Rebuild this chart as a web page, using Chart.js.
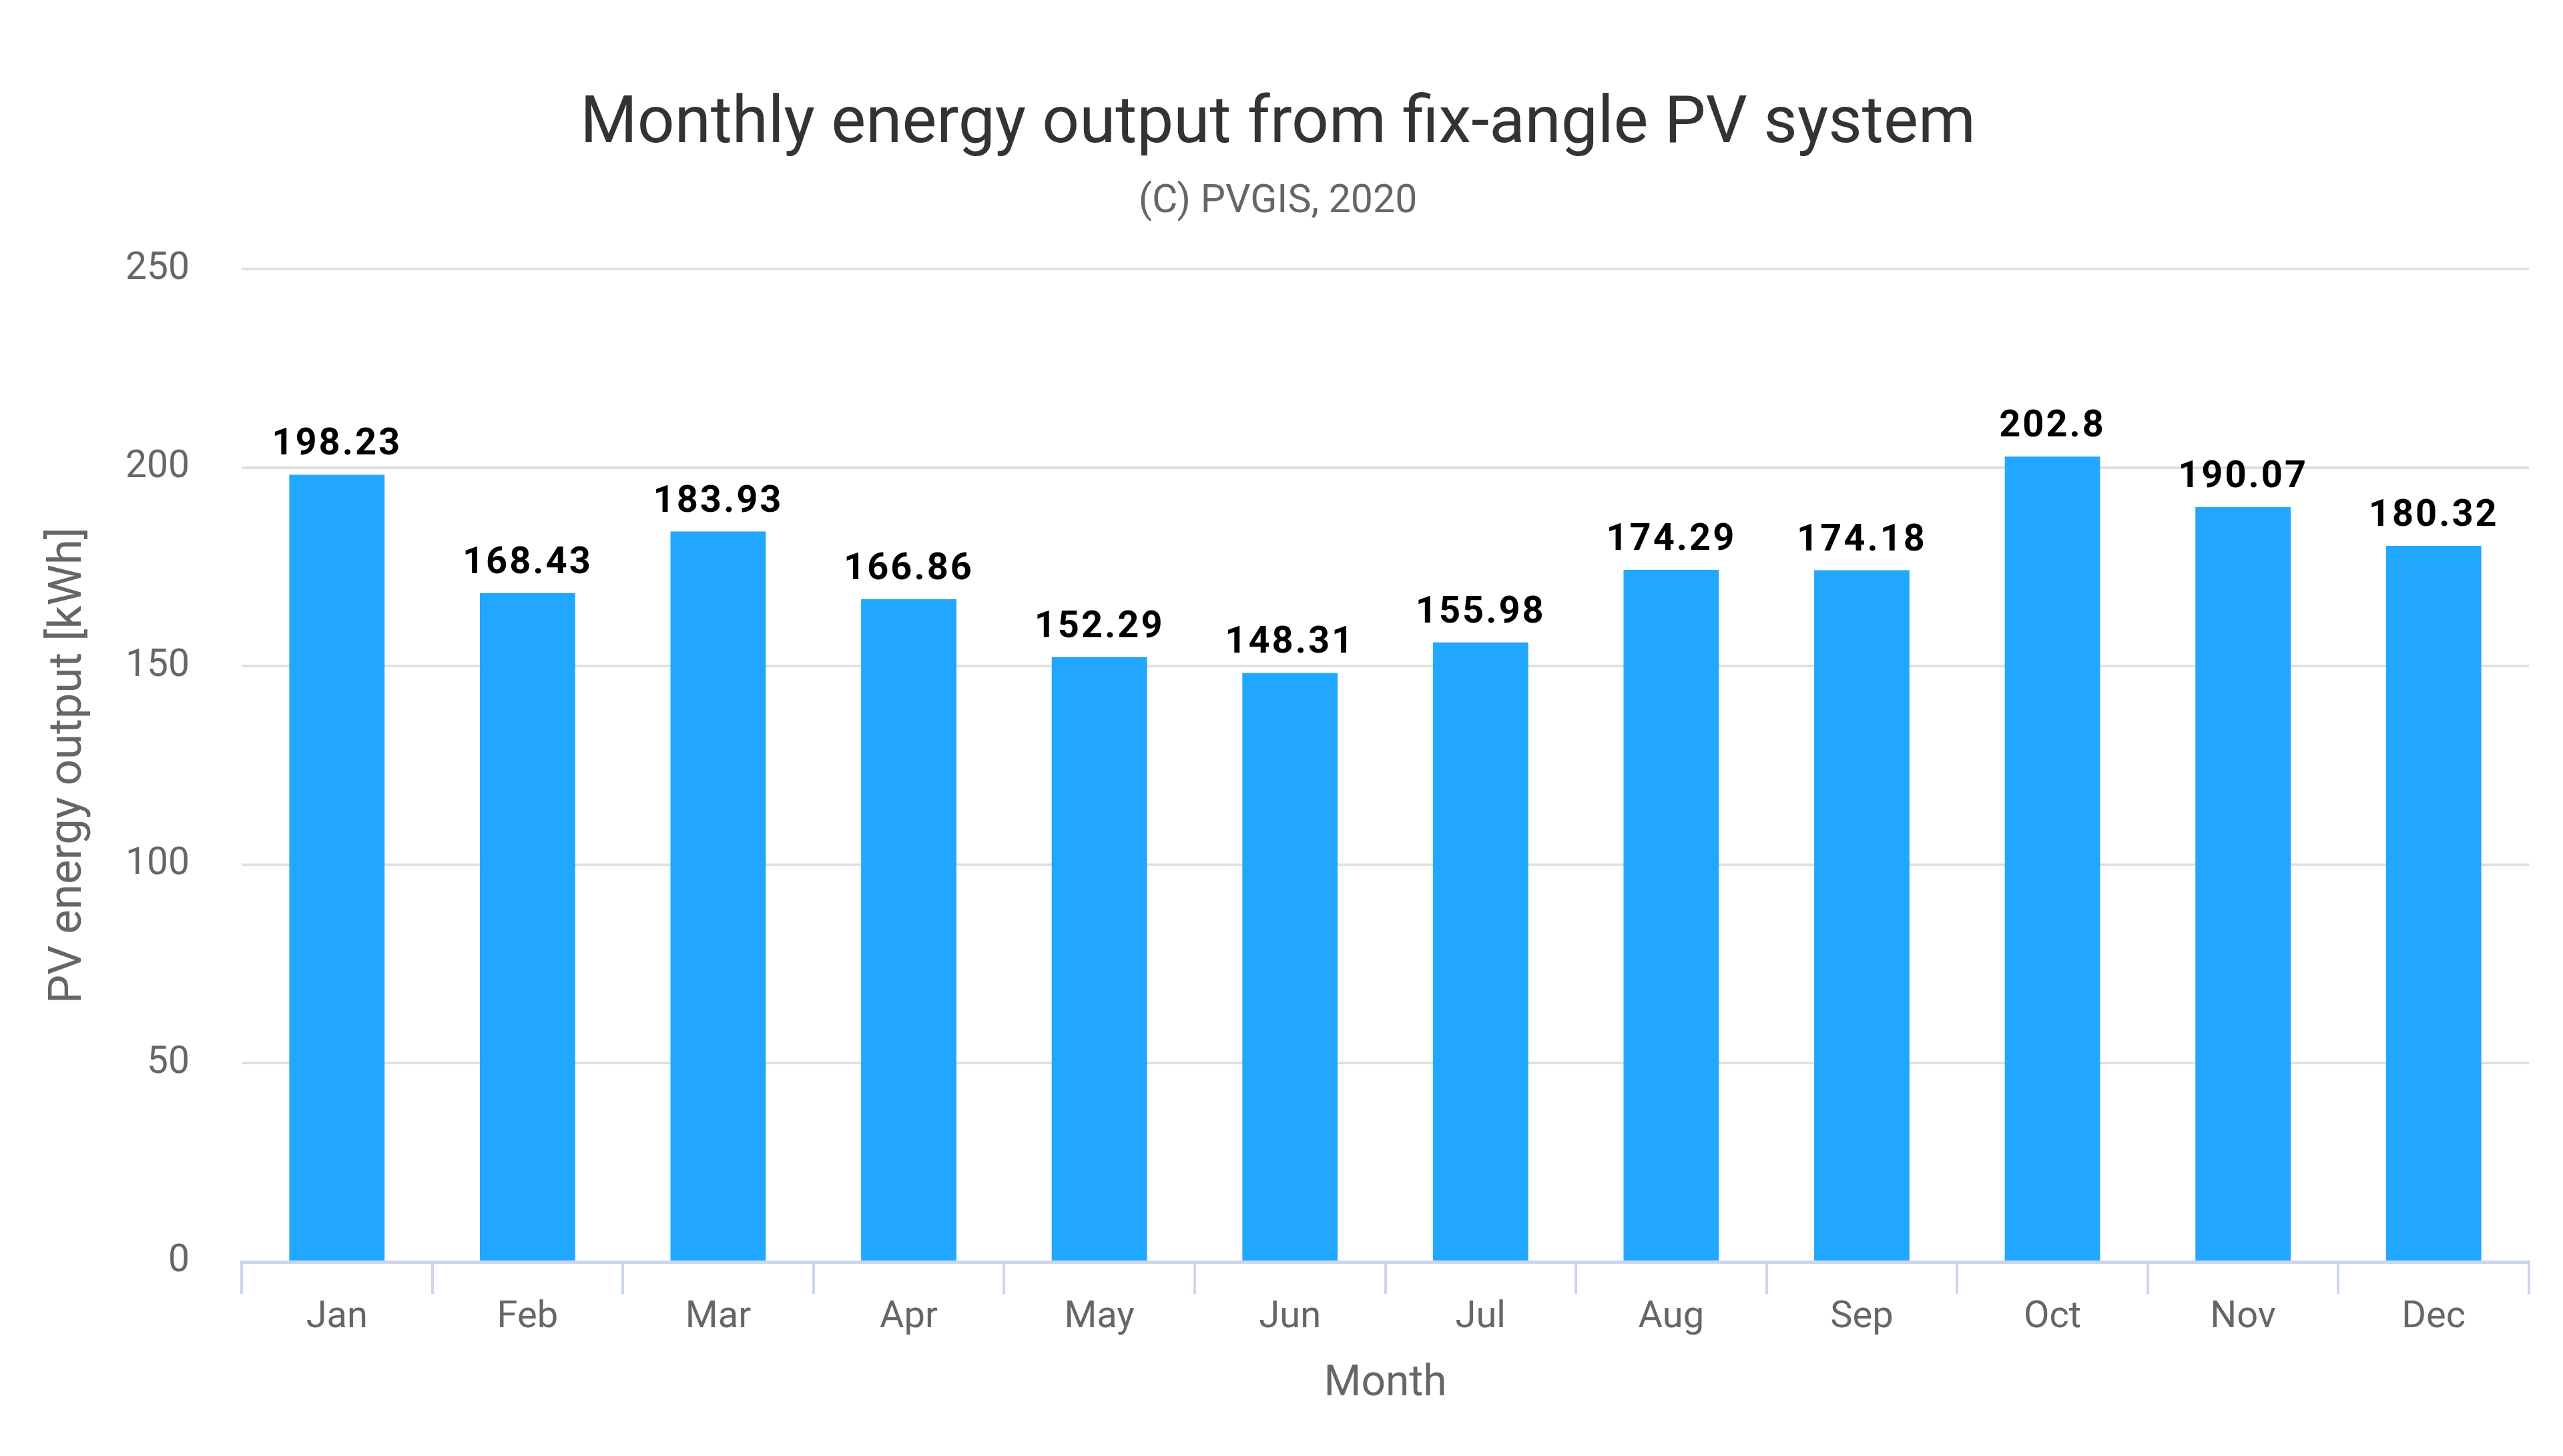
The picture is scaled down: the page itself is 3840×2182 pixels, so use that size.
<!DOCTYPE html>
<html>
<head>
<meta charset="utf-8">
<script src="https://cdn.jsdelivr.net/npm/chart.js@4"></script>
<style>
  html, body { margin: 0; padding: 0; background: #fff; }
  #wrap { width: 3840px; height: 2182px; }
</style>
</head>
<body>
<div id="wrap"><canvas id="pv_chart"></canvas></div>
<script>
months = ['Jan', 'Feb', 'Mar', 'Apr', 'May', 'Jun', 'Jul', 'Aug', 'Sep', 'Oct', 'Nov', 'Dec']
energy = [198.23, 168.43, 183.93, 166.86, 152.29, 148.31, 155.98, 174.29, 174.18, 202.8, 190.07, 180.32]
yTicks = [0, 50, 100, 150, 200, 250]

// value printed above each bar
valueLabels = {
    id: 'valueLabels',
    afterDatasetsDraw(chart) {
        const ctx = chart.ctx;
        const meta = chart.getDatasetMeta(0);
        ctx.save();
        ctx.font = 'bold 56px Roboto';
        ctx.letterSpacing = '3px';
        ctx.fillStyle = '#000';
        ctx.textAlign = 'center';
        ctx.textBaseline = 'alphabetic';
        meta.data.forEach((bar, i) => {
            ctx.fillText(String(energy[i]), bar.x, bar.y - 30);
        });
        ctx.restore();
    }
};

config = {
    type: 'bar',
    data: {
        labels: months,
        datasets: [{
            label: 'PV energy output',
            data: energy,
            backgroundColor: '#21a7ff',
            barPercentage: 0.5,
            categoryPercentage: 1.0,
        }]
    },
    options: {
        responsive: true,
        maintainAspectRatio: false,
        devicePixelRatio: 1,
        animation: false,
        layout: { padding: { top: 0, left: 40, right: 51, bottom: 69 } },
        plugins: {
            legend: { display: false },
            tooltip: { enabled: false },
            title: {
                display: true,
                text: 'Monthly energy output from fix-angle PV system',
                color: '#333',
                font: { family: 'Roboto', size: 98, weight: 'normal' },
                padding: { top: 130, bottom: 20 },
            },
            subtitle: {
                display: true,
                text: '(C) PVGIS, 2020',
                color: '#666',
                font: { family: 'Roboto', size: 59 },
                padding: { top: 0, bottom: 65 },
            },
        },
        scales: {
            x: {
                grid: {
                    offset: true,
                    drawOnChartArea: false,
                    drawTicks: true,
                    tickLength: 48,
                    color: '#ccd6eb',
                    lineWidth: 4,
                },
                border: { display: true, color: '#ccd6eb', width: 5 },
                ticks: {
                    color: '#666',
                    padding: 2,
                    font: { family: 'Roboto', size: 56 },
                },
                title: {
                    display: true,
                    text: 'Month',
                    color: '#666',
                    font: { family: 'Roboto', size: 64 },
                    padding: { top: 26, bottom: 0 },
                },
            },
            y: {
                min: 0,
                max: 250,
                afterBuildTicks(scale) {
                    scale.ticks = yTicks.map(v => ({ value: v }));
                },
                afterFit(scale) { scale.width = 322; },
                grid: { color: '#e0e0e0', lineWidth: 4, drawTicks: false },
                border: { display: false },
                ticks: {
                    color: '#666',
                    padding: 78,
                    font: { family: 'Roboto', size: 57 },
                },
                title: {
                    display: true,
                    text: 'PV energy output [kWh]',
                    color: '#666',
                    font: { family: 'Roboto', size: 69 },
                    padding: { top: 22, bottom: 0 },
                },
            },
        },
    },
    plugins: [valueLabels],
};

ctx = document.getElementById('pv_chart');
new Chart(ctx, config);
</script>
</body>
</html>
